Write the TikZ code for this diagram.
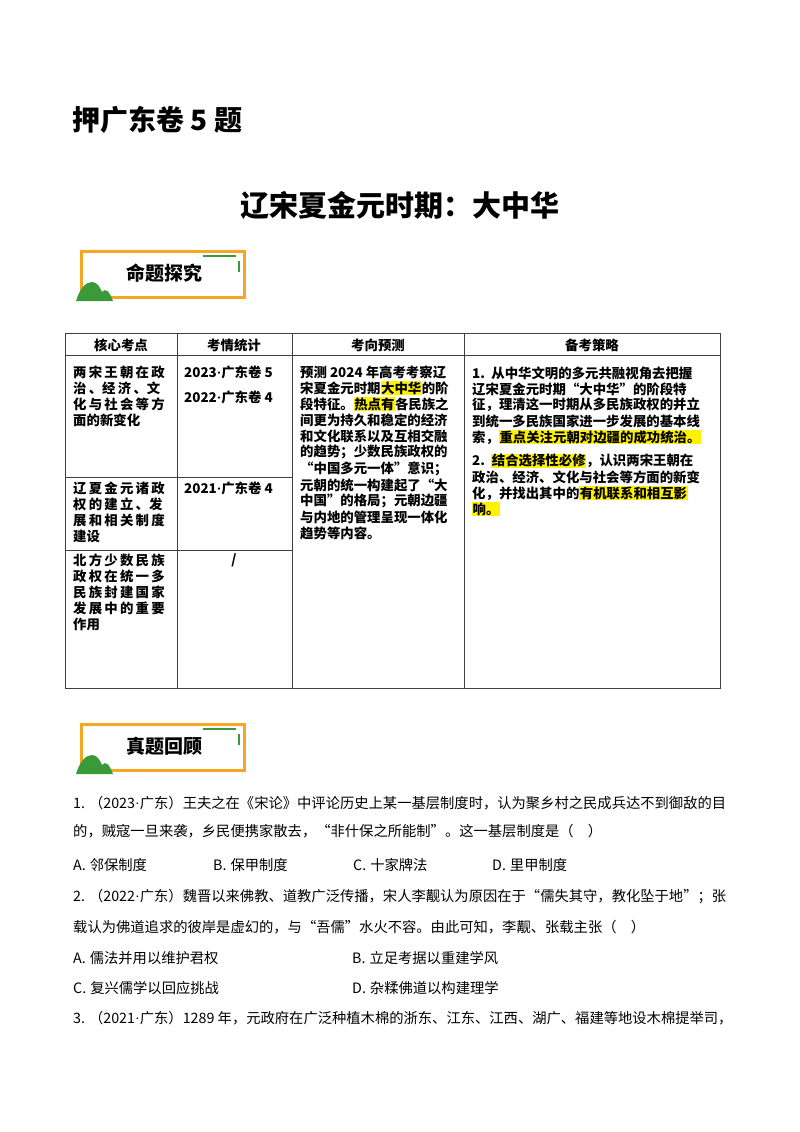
\documentclass[tikz,border=0pt]{standalone}
\usepackage{fontspec}
\setmainfont{Noto Sans CJK SC}
\newfontfamily\latinf{Liberation Serif}
\newcommand{\dt}{{\latinf\bfseries ·}}
\newcommand{\dn}{{\latinf ·}}
\newcommand{\hl}[1]{{\setlength{\fboxsep}{0.5pt}\colorbox{yellow}{#1}}}
\definecolor{bannerorange}{HTML}{F5A623}
\definecolor{bannergreen}{HTML}{3A9A3A}
\tikzset{
  cell/.style={anchor=west,inner sep=0pt,font=\fontsize{13.4}{13}\selectfont\bfseries},
  qline/.style={anchor=west,inner sep=0pt,font=\fontsize{14.3}{14}\selectfont},
  grid/.style={draw=black!75,line width=0.8pt},
}
\newcommand{\banner}[3]{%
  \begin{scope}[yshift=#1]
  \draw[bannerorange,line width=3pt] (81,251) rectangle (244,297);
  \draw[bannergreen,line width=2pt] (203,256) -- (236,256);
  \draw[bannergreen,line width=2pt] (239,261) -- (239,272);
  \fill[bannergreen] (76,301) .. controls (80,288) and (86,282) .. (92,282) .. controls (97,282) and (100,287) .. (102,292) .. controls (105,288) and (109,290) .. (113,301) -- cycle;
  \node[inner sep=0pt,font=\fontsize{19}{19}\selectfont\bfseries] (#2) at (164,273) {#3};
  \end{scope}}
\begin{document}
\begin{tikzpicture}[x=1pt,y=-1pt]
\useasboundingbox (0,0) rectangle (800,1132);
\fill[white] (0,0) rectangle (800,1132);
\node[anchor=west,inner sep=0pt,font=\fontsize{28}{28}\selectfont\bfseries] (t1) at (72,120) {押广东卷 5 题};
\node[inner sep=0pt,font=\fontsize{29}{28}\selectfont\bfseries] (t2) at (400,205) {辽宋夏金元时期：大中华};
\banner{0pt}{b1}{命题探究}
% table
\draw[grid] (65,333) rectangle (720,688);
\draw[grid] (65,355) -- (720,355);
\draw[grid] (177,333) -- (177,688);
\draw[grid] (292,333) -- (292,688);
\draw[grid] (464,333) -- (464,688);
\draw[grid] (65,477) -- (292,477);
\draw[grid] (65,550) -- (292,550);
\node[cell,anchor=center] (h1) at (121,345) {核心考点};
\node[cell,anchor=center] (h2) at (234,345) {考情统计};
\node[cell,anchor=center] (h3) at (378,345) {考向预测};
\node[cell,anchor=center] (h4) at (592,345) {备考策略};
\foreach \t [count=\i] in {两\,宋\,王\,朝\,在\,政,治\,、经\,济\,、文,化\,与\,社\,会\,等\,方,面的新变化}
  \node[cell] at (73,{372+16*(\i-1)}) {\t};
\foreach \t [count=\i] in {辽\,夏\,金\,元\,诸\,政,权\,的\,建\,立\,、发,展\,和\,相\,关\,制\,度,建设}
  \node[cell] at (73,{488+16.3*(\i-1)}) {\t};
\foreach \t [count=\i] in {北\,方\,少\,数\,民\,族,政\,权\,在\,统\,一\,多,民\,族\,封\,建\,国\,家,发\,展\,中\,的\,重\,要,作用}
  \node[cell] at (73,{560+16*(\i-1)}) {\t};
\node[cell] (s1) at (184,372) {2023\dt 广东卷 5};
\node[cell] (s2) at (184,397) {2022\dt 广东卷 4};
\node[cell] (s3) at (184,488) {2021\dt 广东卷 4};
\node[cell,anchor=center] (s4) at (234,560) {/};
\node[cell] at (300,372) {预测 2024 年高考考察辽};
\node[cell] at (300,388) {宋夏金元时期\hl{大中华}的阶};
\node[cell] at (300,404) {段特征。\hl{热点有}各民族之};
\node[cell] at (300,420) {间更为持久和稳定的经济};
\node[cell] at (300,436) {和文化联系以及互相交融};
\node[cell] at (300,452) {的趋势；少数民族政权的};
\node[cell] at (300,468.5) {“中国多元一体”意识；};
\node[cell] at (300,485) {元朝的统一构建起了“大};
\node[cell] at (300,501) {中国”的格局；元朝边疆};
\node[cell] at (300,517) {与内地的管理呈现一体化};
\node[cell] at (300,533) {趋势等内容。};
\node[cell] at (472,373) {1.\, 从中华文明的多元共融视角去把握};
\node[cell] at (472,389) {辽宋夏金元时期“大中华”的阶段特};
\node[cell] at (472,405) {征，理清这一时期从多民族政权的并立};
\node[cell] at (472,421) {到统一多民族国家进一步发展的基本线};
\node[cell] at (472,437) {索，\hl{重点关注元朝对边疆的成功统治。}};
\node[cell] at (472,461) {2.\, \hl{结合选择性必修}，认识两宋王朝在};
\node[cell] at (472,477) {政治、经济、文化与社会等方面的新变};
\node[cell] at (472,493) {化，并找出其中的\hl{有机联系和相互影}};
\node[cell] at (472,509) {\hl{响。}};
\banner{-473pt}{b2}{真题回顾}
% questions
\node[qline] (q1) at (73,803) {1.\;（2023\dn 广东）王夫之在《宋论》中评论历史上某一基层制度时，认为聚乡村之民成兵达不到御敌的目};
\node[qline] at (73,831) {的，贼寇一旦来袭，乡民便携家散去，“非什保之所能制”。这一基层制度是（\quad）};
\node[qline] at (73,865) {A.\;邻保制度};
\node[qline] at (213,865) {B.\;保甲制度};
\node[qline] at (353,865) {C.\;十家牌法};
\node[qline] at (492,865) {D.\;里甲制度};
\node[qline] (q2) at (73,897) {2.\;（2022\dn 广东）魏晋以来佛教、道教广泛传播，宋人李觏认为原因在于“儒失其守，教化坠于地”；张};
\node[qline] at (73,927) {载认为佛道追求的彼岸是虚幻的，与“吾儒”水火不容。由此可知，李觏、张载主张（\quad）};
\node[qline] at (73,958) {A.\;儒法并用以维护君权};
\node[qline] at (352,958) {B.\;立足考据以重建学风};
\node[qline] at (73,988) {C.\;复兴儒学以回应挑战};
\node[qline] at (352,988) {D.\;杂糅佛道以构建理学};
\node[qline] (q3) at (73,1018) {3.\;（2021\dn 广东）1289 年，元政府在广泛种植木棉的浙东、江东、江西、湖广、福建等地设木棉提举司，};
\end{tikzpicture}
\end{document}
